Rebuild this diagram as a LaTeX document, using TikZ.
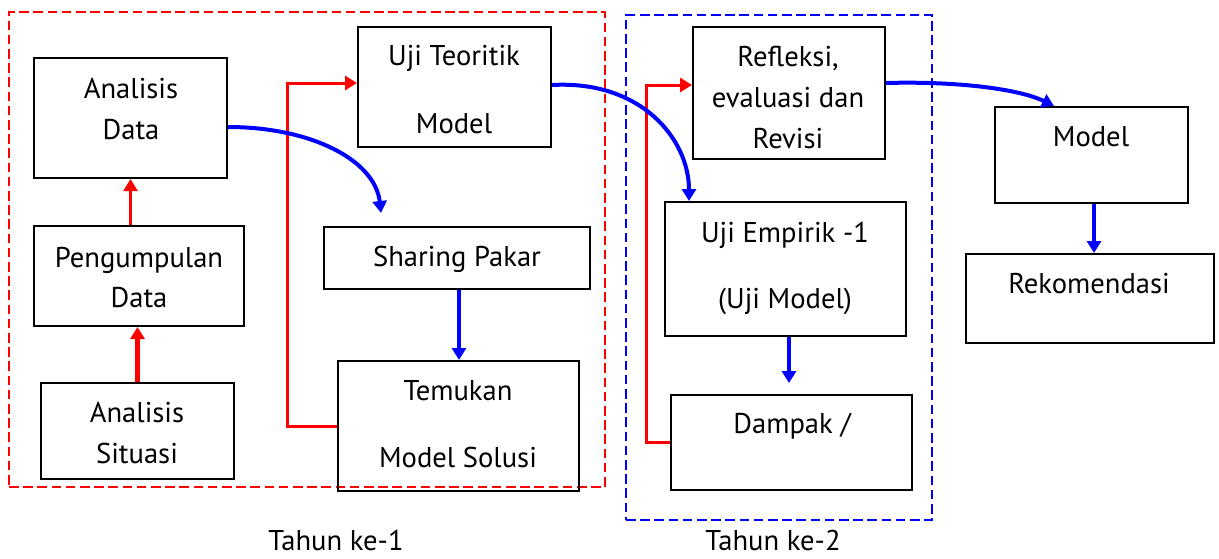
\documentclass[tikz,border=0pt]{standalone}
\usepackage{fontspec}
\setmainfont{PT Sans}
\usetikzlibrary{arrows.meta,fit}
\begin{document}
\begin{tikzpicture}[x=0.5pt,y=-0.5pt,
  box/.style={draw=black, line width=1pt, rectangle, inner sep=0pt},
  frame/.style={line width=1.35pt, dash pattern=on 4.8pt off 2.3pt, rectangle, inner sep=0pt},
  txt/.style={anchor=base, inner sep=0pt, font=\fontsize{14.3}{17}\selectfont},
  tip/.style={-{Triangle[length=6pt,width=7pt]}},
  redarr/.style={tip, draw=red, line width=1.5pt},
  bluearr/.style={tip, draw=blue, line width=2pt},
]
\useasboundingbox (0,0) rectangle (1219,558);

% group frames
\node[frame, draw=red, fit={(9,12) (605,487)}] (tahun1) {};
\node[frame, draw=blue, fit={(626,15) (932,520)}] (tahun2) {};
\node[txt] (t1) at (336,550) {Tahun ke-1};
\node[txt] (t2) at (773,550) {Tahun ke-2};

% boxes
\node[box, fit={(34,58) (227,178)}] (ad) {};
\node[box, fit={(34,226) (244,326)}] (pd) {};
\node[box, fit={(41,383) (234,479)}] (as) {};
\node[box, fit={(358,27) (551,147)}] (ut) {};
\node[box, fit={(324,227) (590,289)}] (sp) {};
\node[box, fit={(338,361) (579,491)}] (tm) {};
\node[box, fit={(693,27) (885,159)}] (rf) {};
\node[box, fit={(665,202) (906,336)}] (ue) {};
\node[box, fit={(671,395) (912,490)}] (dp) {};
\node[box, fit={(995,107) (1188,203)}] (mo) {};
\node[box, fit={(966,254) (1214,343)}] (rk) {};

% texts
\node[txt] (ad1) at (131,98) {Analisis};
\node[txt] (ad2) at (131,139) {Data};
\node[txt] (pd1) at (139,267) {Pengumpulan};
\node[txt] (pd2) at (139,307) {Data};
\node[txt] (as1) at (137,422) {Analisis};
\node[txt] (as2) at (137,463) {Situasi};
\node[txt] (ut1) at (454,65) {Uji Teoritik};
\node[txt] (ut2) at (454,133) {Model};
\node[txt] (sp1) at (457,266) {Sharing Pakar};
\node[txt] (tm1) at (458,400) {Temukan};
\node[txt] (tm2) at (458,467) {Model Solusi};
\node[txt] (rf1) at (788,66) {Refleksi,};
\node[txt] (rf2) at (788,107) {evaluasi dan};
\node[txt] (rf3) at (788,148) {Revisi};
\node[txt] (ue1) at (785,242) {Uji Empirik -1};
\node[txt] (ue2) at (785,308) {(Uji Model)};
\node[txt] (dp1) at (792,433) {Dampak /};
\node[txt] (mo1) at (1091,146) {Model};
\node[txt] (rk1) at (1089,293) {Rekomendasi};

% free ends
\coordinate (spTip) at (381,213);
\coordinate (dpTip) at (789,383);

% red connectors
\draw[redarr, line width=1.2pt] (pd.north -| ad.south) -- (ad.south);
\draw[redarr, line width=2.3pt] (as.north) -- (as.north |- pd.south);
\draw[redarr] (tm.west) -- ++(-50,0) |- ([yshift=2pt]ut.west);
\draw[redarr] (dp.west) -- ++(-24,0) |- ([yshift=4pt]rf.west);

% blue connectors
\draw[bluearr] ([yshift=-4.5pt]ad.east) .. controls +(83,0) and +(-6,-53) .. (spTip);
\draw[bluearr] (sp.south -| 459,0) -- (tm.north -| 459,0);
\draw[bluearr] ([yshift=1pt]ut.east) .. controls +(89,-5) and +(0,-62) .. ([xshift=12.5pt]ue.north west);
\draw[bluearr] (ue.south -| dpTip) -- (dpTip);
\draw[bluearr] ([yshift=5pt]rf.east) .. controls +(71,-2) and +(-35,-17) .. ([xshift=30pt]mo.north west);
\draw[bluearr] (mo.south -| 1094,0) -- (rk.north -| 1094,0);
\end{tikzpicture}
\end{document}
